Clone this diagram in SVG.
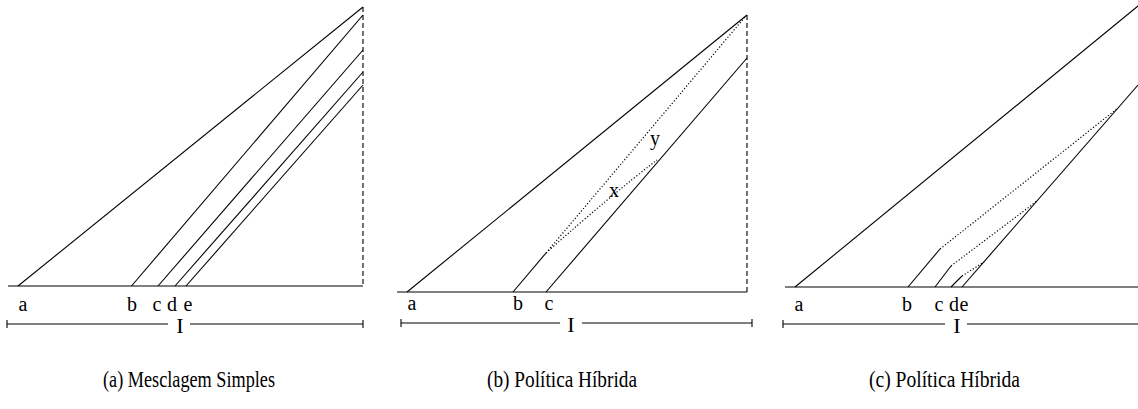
<svg xmlns="http://www.w3.org/2000/svg" width="1138" height="409" viewBox="0 0 1138 409">
<style>
.s{stroke:#000;stroke-width:1.1;fill:none}
.dash{stroke:#000;stroke-width:1.1;fill:none;stroke-dasharray:5,3}
.dot{stroke:#000;stroke-width:1.2;fill:none;stroke-dasharray:1.2,2}
.lbl{font-family:"Liberation Serif",serif;font-size:20px;fill:#000;text-anchor:middle}
.big{font-size:22px}
.cap{font-family:"Liberation Serif",serif;font-size:24px;fill:#000}
</style>
<rect width="1138" height="409" fill="#fff"/>
<g id="panel-a">
  <line class="s" x1="8" y1="286" x2="363" y2="286"/>
  <line class="dash" x1="363" y1="7" x2="363" y2="286"/>
  <line class="s" x1="18" y1="286" x2="363" y2="7"/>
  <line class="s" x1="131.5" y1="286" x2="363" y2="15"/>
  <line class="s" x1="158" y1="286" x2="363" y2="50"/>
  <line class="s" x1="175" y1="286" x2="363" y2="72"/>
  <line class="s" x1="186" y1="286" x2="363" y2="85"/>
  <text class="lbl" x="23" y="311">a</text>
  <text class="lbl" x="132" y="311">b</text>
  <text class="lbl" x="157" y="311">c</text>
  <text class="lbl" x="172" y="311">d</text>
  <text class="lbl" x="188" y="311">e</text>
  <line class="s" x1="7" y1="324" x2="168" y2="324"/>
  <line class="s" x1="190" y1="324" x2="363" y2="324"/>
  <line class="s" x1="7" y1="320" x2="7" y2="328"/>
  <line class="s" x1="363" y1="320" x2="363" y2="328"/>
  <text class="lbl big" x="180" y="333">I</text>
  <text class="cap" x="103" y="387" textLength="172" lengthAdjust="spacingAndGlyphs">(a) Mesclagem Simples</text>
</g>
<g id="panel-b">
  <line class="s" x1="397" y1="292" x2="747" y2="292"/>
  <line class="dash" x1="747" y1="15" x2="747" y2="292"/>
  <line class="s" x1="407" y1="292" x2="747" y2="15"/>
  <line class="s" x1="513" y1="292" x2="546" y2="253"/>
  <line class="dot" x1="546" y1="253" x2="745" y2="17"/>
  <path class="dot" d="M546,253 Q 610,196 657,160"/>
  <line class="s" x1="546" y1="292" x2="747" y2="58"/>
  <text class="lbl" x="614" y="197">x</text>
  <text class="lbl" x="655" y="145">y</text>
  <text class="lbl" x="412" y="310">a</text>
  <text class="lbl" x="518" y="310">b</text>
  <text class="lbl" x="549" y="310">c</text>
  <line class="s" x1="401" y1="323" x2="560" y2="323"/>
  <line class="s" x1="582" y1="323" x2="752" y2="323"/>
  <line class="s" x1="401" y1="319" x2="401" y2="327"/>
  <line class="s" x1="752" y1="319" x2="752" y2="327"/>
  <text class="lbl big" x="571" y="332">I</text>
  <text class="cap" x="487" y="387" textLength="150" lengthAdjust="spacingAndGlyphs">(b) Política Híbrida</text>
</g>
<g id="panel-c">
  <line class="s" x1="785" y1="287" x2="1138" y2="287"/>
  <line class="s" x1="795" y1="287" x2="1138" y2="6"/>
  <line class="s" x1="962" y1="287" x2="1138" y2="85"/>
  <line class="s" x1="908" y1="287" x2="940" y2="249"/>
  <line class="dot" x1="940" y1="249" x2="1118" y2="108"/>
  <line class="s" x1="935" y1="287" x2="951" y2="266"/>
  <line class="dot" x1="951" y1="266" x2="1037" y2="201"/>
  <line class="s" x1="951" y1="287" x2="962" y2="276"/>
  <line class="dot" x1="962" y1="276" x2="984" y2="262"/>
  <text class="lbl" x="799" y="311">a</text>
  <text class="lbl" x="907" y="311">b</text>
  <text class="lbl" x="939" y="311">c</text>
  <text class="lbl" x="954" y="311">d</text>
  <text class="lbl" x="964" y="311">e</text>
  <line class="s" x1="783" y1="324" x2="945" y2="324"/>
  <line class="s" x1="967" y1="324" x2="1138" y2="324"/>
  <line class="s" x1="783" y1="320" x2="783" y2="328"/>
  <text class="lbl big" x="957" y="333">I</text>
  <text class="cap" x="869" y="387" textLength="151" lengthAdjust="spacingAndGlyphs">(c) Política Híbrida</text>
</g>
</svg>
